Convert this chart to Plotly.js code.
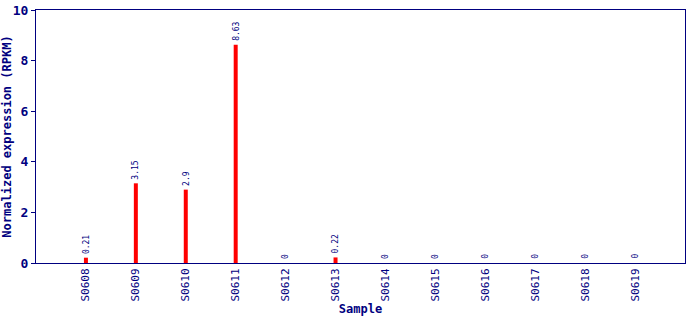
<!DOCTYPE html>
<html><head><meta charset="utf-8">
<script src="https://cdn.plot.ly/plotly-3.0.1.min.js"></script>
<style>html,body{margin:0;padding:0;background:#fff;}</style>
</head><body>
<div id="chart" style="width:690px;height:320px;"></div>
<script>
var samples = ["S0608","S0609","S0610","S0611","S0612","S0613","S0614","S0615","S0616","S0617","S0618","S0619"];
var values = [0.21, 3.15, 2.9, 8.63, 0, 0.22, 0, 0, 0, 0, 0, 0];
var labels = ["0.21","3.15","2.9","8.63","0","0.22","0","0","0","0","0","0"];
var yTicks = [0, 2, 4, 6, 8, 10];

var navy = "#000080";
var mono = "DejaVu Sans Mono, Liberation Mono, monospace";

var trace = {
  type: "bar",
  x: samples,
  y: values,
  width: 0.08,
  marker: {color: "#ff0000", line: {width: 0}},
  hoverinfo: "none"
};

var annotations = samples.map(function (s, i) {
  return {
    x: s, y: values[i], xref: "x", yref: "y",
    text: labels[i], textangle: -90, showarrow: false,
    xanchor: "center", yanchor: "bottom", yshift: 2,
    font: {family: mono, size: 8, color: navy}
  };
});

var layout = {
  width: 690, height: 320,
  margin: {l: 36, r: 5, t: 10, b: 57},
  paper_bgcolor: "#fff", plot_bgcolor: "#fff",
  showlegend: false,
  annotations: annotations,
  xaxis: {
    range: [-1, 12],
    showline: true, linecolor: navy, linewidth: 1, mirror: true,
    ticks: "", tickangle: -90,
    tickfont: {family: mono, size: 11, color: navy},
    showgrid: false, zeroline: false,
    title: {text: "Sample", font: {family: mono, size: 12, color: navy, weight: 700}, standoff: 4}
  },
  yaxis: {
    range: [0, 10],
    tickvals: yTicks,
    showline: true, linecolor: navy, linewidth: 1, mirror: true,
    ticks: "outside", ticklen: 4, tickcolor: navy,
    tickfont: {family: mono, size: 13, color: navy, weight: 700},
    showgrid: false, zeroline: false,
    title: {text: "Normalized expression (RPKM)", font: {family: mono, size: 12, color: navy, weight: 700}, standoff: 6}
  }
};

Plotly.newPlot("chart", [trace], layout, {staticPlot: true, displayModeBar: false});
</script>
</body></html>
